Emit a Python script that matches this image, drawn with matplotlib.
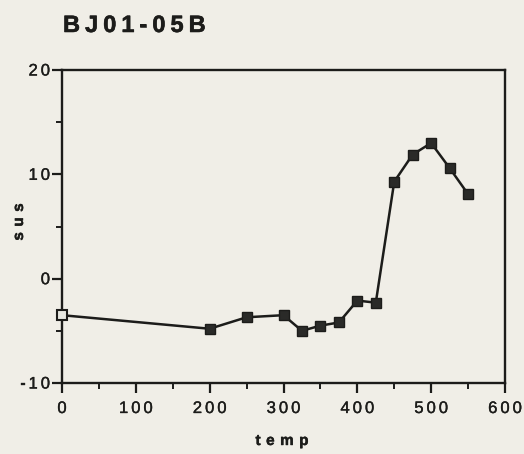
import matplotlib
matplotlib.use("Agg")
import matplotlib.pyplot as plt
import matplotlib.patheffects as pe
from matplotlib.ticker import MultipleLocator, NullFormatter
from matplotlib.font_manager import FontProperties, findfont, get_font
from matplotlib.ft2font import LoadFlags
from matplotlib.transforms import IdentityTransform

# Susceptibility versus heating temperature
temp = [0, 200, 250, 300, 325, 350, 375, 400, 425, 450, 475, 500, 525, 550]
sus = [-3.5, -4.8, -3.7, -3.5, -5.0, -4.5, -4.2, -2.1, -2.3, 9.3, 11.9, 13.0, 10.6, 8.1]
x_ticks = [0, 100, 200, 300, 400, 500, 600]
y_ticks = [-10, 0, 10, 20]
title = "BJ01-05B"
x_label = "temp"
y_label = "sus"

FAMILY = ["Liberation Sans", "DejaVu Sans"]
plt.rcParams["font.family"] = FAMILY
bg = "#f0eee7"
ink = "#1c1c1a"
DPI = 100

W, H = 524, 454
fig = plt.figure(figsize=(W / DPI, H / DPI), dpi=DPI, facecolor=bg)
ax = fig.add_axes([62 / W, 1 - 383 / H, 443 / W, 313 / H], facecolor=bg)

ax.plot(temp, sus, color=ink, lw=1.8, zorder=2)
ax.plot(temp[1:], sus[1:], ls="none", marker="s", ms=7.5, mfc="#2a2a28",
        mec=ink, zorder=3)
ax.plot(temp[:1], sus[:1], ls="none", marker="s", ms=7, mfc="#e8e8e2",
        mec=ink, mew=1.5, zorder=3, clip_on=False)

ax.set_xlim(0, 600)
ax.set_ylim(-10, 20)
ax.set_xticks(x_ticks)
ax.set_yticks(y_ticks)
ax.xaxis.set_minor_locator(MultipleLocator(50))
ax.yaxis.set_minor_locator(MultipleLocator(5))
ax.xaxis.set_major_formatter(NullFormatter())
ax.yaxis.set_major_formatter(NullFormatter())
ax.tick_params(which="major", direction="out", length=7.5, width=1.6, colors=ink)
ax.tick_params(which="minor", direction="out", length=4, width=1.4, colors=ink)
for s in ax.spines.values():
    s.set_linewidth(1.7)
    s.set_color(ink)


def advances(s, prop):
    """Horizontal advance of each character, in pixels."""
    font = get_font(findfont(prop))
    font.set_size(prop.get_size_in_points(), DPI)
    out = []
    for ch in s:
        g = font.load_char(ord(ch), flags=LoadFlags.NO_HINTING)
        out.append(g.linearHoriAdvance / 65536)
    return out


def tracked(s, x, y, size, track, weight="normal", align="center",
            rotation=0, stroke=0.0):
    """Draw a letter-spaced string character by character, in pixel coords."""
    prop = FontProperties(family=FAMILY[0], size=size, weight=weight)
    adv = advances(s, prop)
    total = sum(adv) + track * (len(s) - 1)
    start = {"center": -total / 2, "right": -total, "left": 0.0}[align]
    effects = [pe.withStroke(linewidth=stroke, foreground=ink)] if stroke else None
    off = start
    for ch, a in zip(s, adv):
        px, py = (x, y + off) if rotation == 90 else (x + off, y)
        fig.text(px, py, ch, fontproperties=prop, color=ink,
                 rotation=rotation, rotation_mode="anchor",
                 ha="left", va="baseline", transform=IdentityTransform(),
                 path_effects=effects)
        off += a + track


# tick labels, positioned from the data transform
for v in x_ticks:
    px = ax.transData.transform((v, 0))[0]
    tracked(str(v), px, H - 413, 12, 3.0, stroke=0.25)
for v in y_ticks:
    py = ax.transData.transform((0, v))[1]
    tracked(str(v), 50, py - 5.5, 12, 3.0, align="right", stroke=0.25)

tracked(title, 63, H - 32, 17, 5.0, weight="bold", align="left", stroke=0.4)
tracked(x_label, 282, H - 445, 11, 5.5, weight="bold", stroke=0.3)
tracked(y_label, 23, H - 222, 11, 5.5, weight="bold", rotation=90, stroke=0.3)

fig.savefig("out.png", dpi=DPI, facecolor=bg)
